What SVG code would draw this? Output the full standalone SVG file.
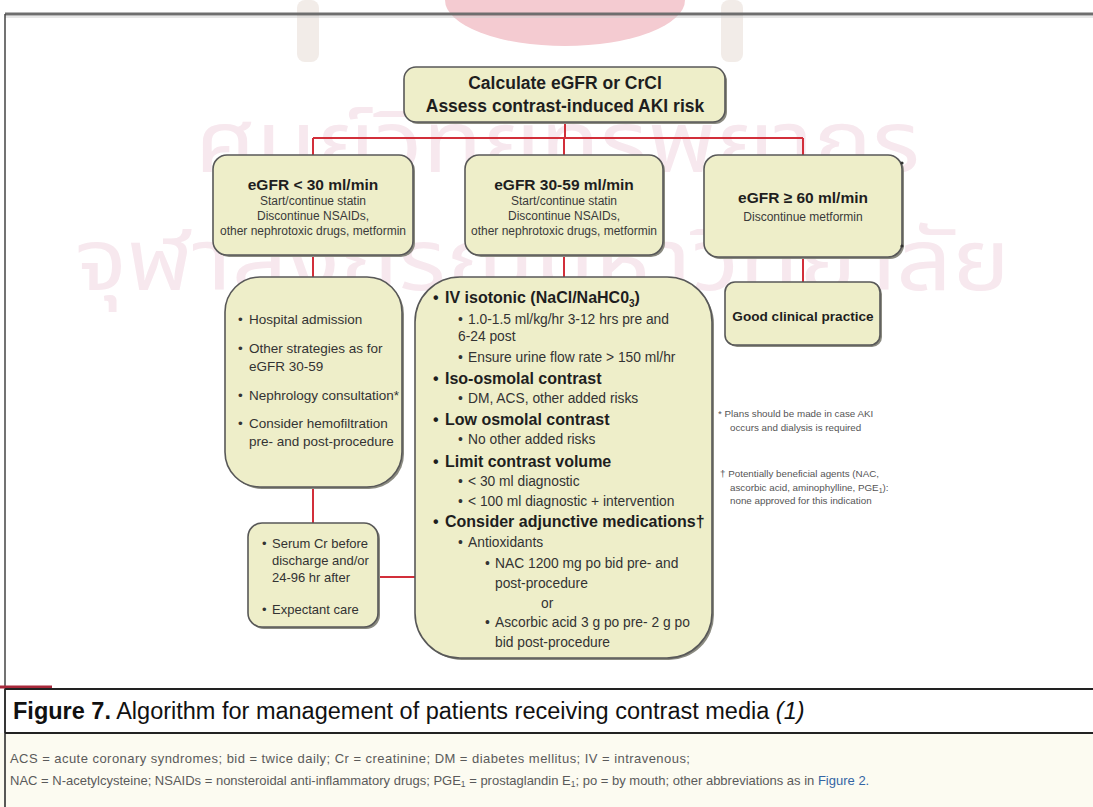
<svg xmlns="http://www.w3.org/2000/svg" width="1093" height="807" viewBox="0 0 1093 807">
<style>
  text { font-family: "Liberation Sans", Arial, sans-serif; }
  .box { fill: #eeeec9; stroke: #585858; stroke-width: 1.6; }
  .shadow { fill: #8a8a80; }
  .conn { stroke: #d22f3a; stroke-width: 2; fill: none; }
  .title { font-weight: bold; font-size: 15.5px; fill: #1e1e1e; text-anchor: middle; }
  .sub { font-size: 12px; fill: #3a3a3a; text-anchor: middle; }
  .big { font-weight: bold; font-size: 17.5px; fill: #1e1e1e; text-anchor: middle; }
  .li { font-size: 13.5px; fill: #333; }
  .ci { font-size: 13.8px; fill: #333; }
  .ch { font-size: 16px; font-weight: bold; fill: #1e1e1e; }
  .note { font-size: 9.8px; fill: #555; }
  .foot { font-size: 13px; fill: #5a5a5a; }
  .wm { font-family: "Noto Sans Thai", "Noto Sans", "DejaVu Sans", sans-serif; font-size: 86px; fill: #f7e8ee; }
</style>

<!-- background -->
<rect x="0" y="0" width="1093" height="807" fill="#ffffff"/>

<!-- watermark -->
<g id="watermark">
  <rect x="297" y="0" width="22" height="62" rx="8" fill="#f2ece8"/>
  <rect x="721" y="0" width="22" height="62" rx="8" fill="#f2ece8"/>
  <path d="M445 0 A120 46 0 0 0 685 0 Z" fill="#f4cbd1"/>
  <text class="wm" x="195" y="172" textLength="725" lengthAdjust="spacingAndGlyphs">ศูนย์วิทยทรัพยากร</text>
  <text class="wm" x="75" y="290" textLength="935" lengthAdjust="spacingAndGlyphs">จุฬาลงกรณ์มหาวิทยาลัย</text>
</g>

<!-- frame -->
<g id="frame">
  <line x1="5" y1="14" x2="1093" y2="14" stroke="#6e6e6e" stroke-width="3"/>
  <line x1="5" y1="17" x2="1093" y2="17" stroke="#cfcfcf" stroke-width="1"/>
  <line x1="5" y1="14" x2="5" y2="807" stroke="#444" stroke-width="1.5"/>
</g>

<!-- connectors -->
<g id="connectors">
  <path class="conn" d="M565 122 V138 M313 138 H803 M313 138 V155 M564 138 V155 M803 138 V155"/>
  <path class="conn" d="M313 255 V277 M564 255 V277 M803 257 V282"/>
  <path class="conn" d="M313 487 V523 M378 577 H415"/>
</g>

<!-- top node -->
<g id="n-top">
  <rect class="shadow" x="406" y="69" width="321" height="55" rx="12"/>
  <rect class="box" x="404" y="67" width="321" height="55" rx="12"/>
  <text class="big" x="565" y="89">Calculate eGFR or CrCl</text>
  <text class="big" x="565" y="112">Assess contrast-induced AKI risk</text>
</g>

<!-- row 2 -->
<g id="n-egfr-lt30">
  <rect class="shadow" x="215" y="157" width="200" height="100" rx="14"/>
  <rect class="box" x="213" y="155" width="200" height="100" rx="14"/>
  <text class="title" x="313" y="190">eGFR &lt; 30 ml/min</text>
  <text class="sub" x="313" y="205">Start/continue statin</text>
  <text class="sub" x="313" y="220">Discontinue NSAIDs,</text>
  <text class="sub" x="313" y="235">other nephrotoxic drugs, metformin</text>
</g>

<g id="n-egfr-30-59">
  <rect class="shadow" x="467" y="157" width="198" height="100" rx="14"/>
  <rect class="box" x="465" y="155" width="198" height="100" rx="14"/>
  <text class="title" x="564" y="190">eGFR 30-59 ml/min</text>
  <text class="sub" x="564" y="205">Start/continue statin</text>
  <text class="sub" x="564" y="220">Discontinue NSAIDs,</text>
  <text class="sub" x="564" y="235">other nephrotoxic drugs, metformin</text>
</g>

<g id="n-egfr-ge60">
  <rect class="shadow" x="706" y="157" width="198" height="102" rx="14"/>
  <rect class="box" x="704" y="155" width="198" height="102" rx="14"/>
  <circle cx="902" cy="163" r="1.6" fill="#333"/>
  <circle cx="902" cy="246" r="1.6" fill="#333"/>
  <text class="title" x="803" y="203">eGFR ≥ 60 ml/min</text>
  <text class="sub" x="803" y="221">Discontinue metformin</text>
</g>

<!-- left big box -->
<g id="n-left">
  <rect class="shadow" x="227" y="279" width="177" height="210" rx="35"/>
  <rect class="box" x="225" y="277" width="177" height="210" rx="35"/>
  <text class="li" x="238" y="324">•</text><text class="li" x="249" y="324">Hospital admission</text>
  <text class="li" x="238" y="353">•</text><text class="li" x="249" y="353">Other strategies as for</text>
  <text class="li" x="249" y="371">eGFR 30-59</text>
  <text class="li" x="238" y="400">•</text><text class="li" x="249" y="400">Nephrology consultation*</text>
  <text class="li" x="238" y="428">•</text><text class="li" x="249" y="428">Consider hemofiltration</text>
  <text class="li" x="249" y="446">pre- and post-procedure</text>
</g>

<!-- bottom-left box -->
<g id="n-followup">
  <rect class="shadow" x="250" y="525" width="130" height="104" rx="14"/>
  <rect class="box" x="248" y="523" width="130" height="104" rx="14"/>
  <text class="li" x="262" y="548" style="font-size:13px">•</text><text class="li" x="272" y="548" style="font-size:13px">Serum Cr before</text>
  <text class="li" x="272" y="565" style="font-size:13px">discharge and/or</text>
  <text class="li" x="272" y="582" style="font-size:13px">24-96 hr after</text>
  <text class="li" x="262" y="614" style="font-size:13px">•</text><text class="li" x="272" y="614" style="font-size:13px">Expectant care</text>
</g>

<!-- center big box -->
<g id="n-center">
  <rect class="shadow" x="417" y="279" width="297" height="381" rx="45"/>
  <rect class="box" x="415" y="277" width="297" height="381" rx="45"/>
  <text class="ch" x="433" y="303">•</text><text class="ch" x="445" y="303">IV isotonic (NaCl/NaHC0<tspan font-size="10" dy="4">3</tspan><tspan dy="-4">)</tspan></text>
  <text class="ci" x="458" y="324">•</text><text class="ci" x="468" y="324">1.0-1.5 ml/kg/hr 3-12 hrs pre and</text>
  <text class="ci" x="458" y="341">6-24 post</text>
  <text class="ci" x="458" y="362">•</text><text class="ci" x="468" y="362">Ensure urine flow rate &gt; 150 ml/hr</text>
  <text class="ch" x="433" y="384">•</text><text class="ch" x="445" y="384">Iso-osmolal contrast</text>
  <text class="ci" x="458" y="403">•</text><text class="ci" x="468" y="403">DM, ACS, other added risks</text>
  <text class="ch" x="433" y="425">•</text><text class="ch" x="445" y="425">Low osmolal contrast</text>
  <text class="ci" x="458" y="444">•</text><text class="ci" x="468" y="444">No other added risks</text>
  <text class="ch" x="433" y="467">•</text><text class="ch" x="445" y="467">Limit contrast volume</text>
  <text class="ci" x="458" y="486">•</text><text class="ci" x="468" y="486">&lt; 30 ml diagnostic</text>
  <text class="ci" x="458" y="506">•</text><text class="ci" x="468" y="506">&lt; 100 ml diagnostic + intervention</text>
  <text class="ch" x="433" y="527">•</text><text class="ch" x="445" y="527">Consider adjunctive medications†</text>
  <text class="ci" x="458" y="547">•</text><text class="ci" x="468" y="547">Antioxidants</text>
  <text class="ci" x="485" y="568">•</text><text class="ci" x="495" y="568">NAC 1200 mg po bid pre- and</text>
  <text class="ci" x="495" y="588">post-procedure</text>
  <text class="ci" x="541" y="608">or</text>
  <text class="ci" x="485" y="627">•</text><text class="ci" x="495" y="627">Ascorbic acid 3 g po pre- 2 g po</text>
  <text class="ci" x="495" y="647">bid post-procedure</text>
</g>

<!-- good clinical practice -->
<g id="n-gcp">
  <rect class="shadow" x="727" y="284" width="155" height="63" rx="10"/>
  <rect class="box" x="725" y="282" width="155" height="63" rx="10"/>
  <text class="title" x="803" y="321" style="font-size:13.6px">Good clinical practice</text>
</g>

<!-- notes -->
<g id="notes">
  <text class="note" x="718" y="416.5">* Plans should be made in case AKI</text>
  <text class="note" x="730" y="430.5">occurs and dialysis is required</text>
  <text class="note" x="720" y="476.5">† Potentially beneficial agents (NAC,</text>
  <text class="note" x="730" y="490.5">ascorbic acid, aminophylline, PGE<tspan font-size="7" dy="2">1</tspan><tspan dy="-2">):</tspan></text>
  <text class="note" x="730" y="503.5">none approved for this indication</text>
</g>

<!-- caption -->
<g id="caption">
  <rect x="0" y="733" width="1093" height="74" fill="#fcfbf1"/>
  <line x1="0" y1="687" x2="52" y2="687" stroke="#a8283a" stroke-width="3"/>
  <line x1="5" y1="689" x2="1093" y2="689" stroke="#222" stroke-width="2"/>
  <line x1="5" y1="733" x2="1093" y2="733" stroke="#222" stroke-width="2"/>
  <line x1="5" y1="689" x2="5" y2="807" stroke="#222" stroke-width="1.5"/>
  <text x="13" y="719" style="font-size:23.5px" fill="#111"><tspan font-weight="bold">Figure 7.</tspan> Algorithm for management of patients receiving contrast media <tspan font-style="italic">(1)</tspan></text>
  <text class="foot" x="10" y="763" textLength="680" lengthAdjust="spacing">ACS = acute coronary syndromes; bid = twice daily; Cr = creatinine; DM = diabetes mellitus; IV = intravenous;</text>
  <text class="foot" x="10" y="785">NAC = N-acetylcysteine; NSAIDs = nonsteroidal anti-inflammatory drugs; PGE<tspan font-size="8.5" dy="2">1</tspan><tspan dy="-2"> = prostaglandin E</tspan><tspan font-size="8.5" dy="2">1</tspan><tspan dy="-2">; po = by mouth; other abbreviations as in </tspan><tspan fill="#3465a4">Figure 2.</tspan></text>
</g>
</svg>
